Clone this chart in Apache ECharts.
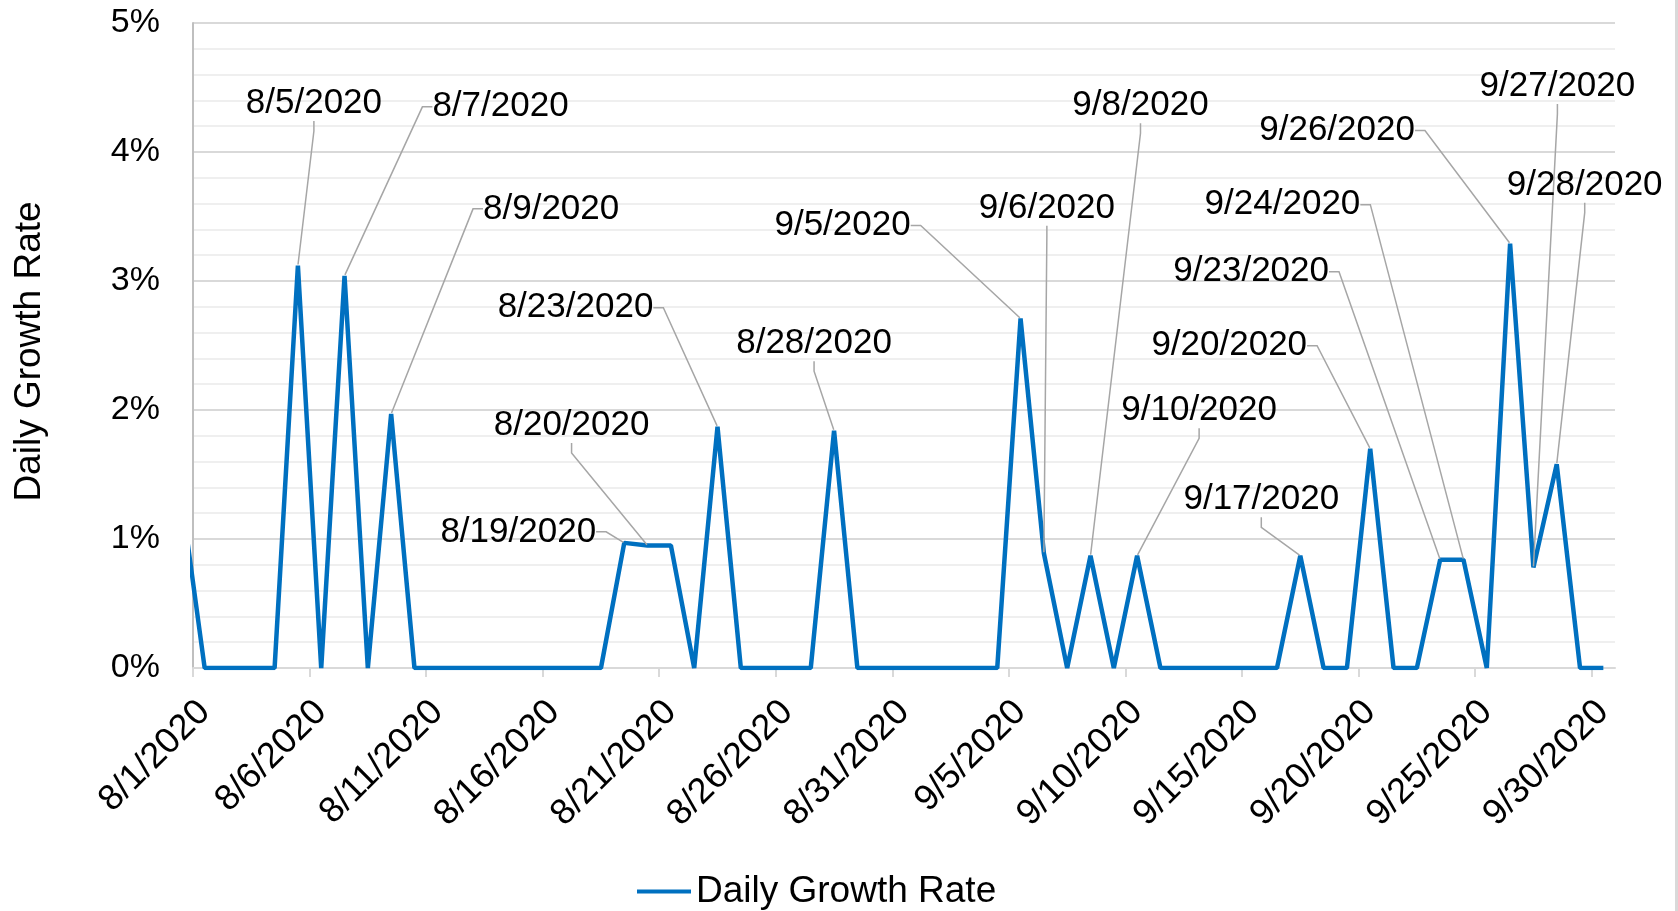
<!DOCTYPE html>
<html>
<head>
<meta charset="utf-8">
<script src="https://cdn.jsdelivr.net/npm/echarts@6/dist/echarts.min.js"></script>
<style>
  html, body { margin: 0; padding: 0; background: #fff; }
  #chart { width: 1675px; height: 911px; border-right: 3px solid #d9d9d9; }
</style>
</head>
<body>
<div id="chart"></div>
<script>
// ---- data ----
const dates = [
  '7/31/2020',
  '8/1/2020','8/2/2020','8/3/2020','8/4/2020','8/5/2020','8/6/2020','8/7/2020','8/8/2020','8/9/2020','8/10/2020',
  '8/11/2020','8/12/2020','8/13/2020','8/14/2020','8/15/2020','8/16/2020','8/17/2020','8/18/2020','8/19/2020','8/20/2020',
  '8/21/2020','8/22/2020','8/23/2020','8/24/2020','8/25/2020','8/26/2020','8/27/2020','8/28/2020','8/29/2020','8/30/2020',
  '8/31/2020','9/1/2020','9/2/2020','9/3/2020','9/4/2020','9/5/2020','9/6/2020','9/7/2020','9/8/2020','9/9/2020',
  '9/10/2020','9/11/2020','9/12/2020','9/13/2020','9/14/2020','9/15/2020','9/16/2020','9/17/2020','9/18/2020','9/19/2020',
  '9/20/2020','9/21/2020','9/22/2020','9/23/2020','9/24/2020','9/25/2020','9/26/2020','9/27/2020','9/28/2020','9/29/2020',
  '9/30/2020'
];
const growthRate = [
  1.33,
  0, 0, 0, 0, 3.12, 0, 3.04, 0, 1.97, 0,
  0, 0, 0, 0, 0, 0, 0, 0, 0.97, 0.95,
  0.95, 0, 1.87, 0, 0, 0, 0, 1.84, 0, 0,
  0, 0, 0, 0, 0, 2.71, 0.89, 0, 0.87, 0,
  0.87, 0, 0, 0, 0, 0, 0, 0.87, 0, 0,
  1.70, 0, 0, 0.84, 0.84, 0, 3.29, 0.78, 1.58, 0,
  0
];
const labeledDates = ['8/5/2020','8/7/2020','8/9/2020','8/19/2020','8/20/2020','8/23/2020','8/28/2020',
  '9/5/2020','9/6/2020','9/8/2020','9/10/2020','9/17/2020','9/20/2020','9/23/2020','9/24/2020',
  '9/26/2020','9/27/2020','9/28/2020'];
const xTickLabels = ['8/1/2020','8/6/2020','8/11/2020','8/16/2020','8/21/2020','8/26/2020','8/31/2020',
  '9/5/2020','9/10/2020','9/15/2020','9/20/2020','9/25/2020','9/30/2020'];
const yTicks = [0, 1, 2, 3, 4, 5];
const seriesName = 'Daily Growth Rate';

// ---- layout (label offsets from their point, px) ----
const labelOffsets = {
  '8/5/2020': [16, -162], '8/7/2020': [156, -169], '8/9/2020': [160, -205],
  '8/19/2020': [-106, -11], '8/20/2020': [-76, -120], '8/23/2020': [-142, -119],
  '8/28/2020': [-20, -87], '9/5/2020': [-178, -93], '9/6/2020': [3, -345],
  '9/8/2020': [50, -450], '9/10/2020': [62, -145], '9/17/2020': [-39, -56],
  '9/20/2020': [-141, -103], '9/23/2020': [-189, -288], '9/24/2020': [-181, -355],
  '9/26/2020': [-173, -113], '9/27/2020': [24, -481], '9/28/2020': [28, -279]
};

const ORIGIN = Date.UTC(2020, 7, 1);
function dayIndex(s) {
  const p = s.split('/').map(Number);
  return Math.round((Date.UTC(p[2], p[0] - 1, p[1]) - ORIGIN) / 864e5);
}
const tickPos = xTickLabels.map(dayIndex);
const tickLabelByPos = {};
xTickLabels.forEach(function (l) { tickLabelByPos[dayIndex(l)] = l; });

const seriesData = dates.map(function (d, i) {
  const item = { name: d, value: [dayIndex(d) + 0.5, growthRate[i]] };
  if (labeledDates.indexOf(d) >= 0) {
    item.label = { show: true };
    item.labelLine = { show: true };
  }
  return item;
});

const FONT = 'Liberation Sans, Arial, sans-serif';
const chart = echarts.init(document.getElementById('chart'));
chart.setOption({
  animation: false,
  backgroundColor: '#ffffff',
  grid: { left: 193, right: 60, top: 23, bottom: 243, containLabel: false },
  legend: {
    left: 632, top: 868,
    itemWidth: 54, itemHeight: 4, itemGap: 20,
    textStyle: { fontFamily: FONT, fontSize: 37, color: '#000' },
    data: [{ name: seriesName, icon: 'rect', itemStyle: { color: '#0070C0' } }]
  },
  xAxis: {
    type: 'value', min: 0, max: 61, interval: 5,
    axisLine: { show: true, lineStyle: { color: '#d9d9d9', width: 2 } },
    axisTick: { show: true, length: 9, lineStyle: { color: '#d9d9d9', width: 2 }, customValues: tickPos },
    axisLabel: {
      customValues: tickPos,
      rotate: 45, margin: 50, padding: [0, -16, 0, 0],
      fontFamily: FONT, fontSize: 36, color: '#000',
      formatter: function (v) { return tickLabelByPos[v] || ''; }
    },
    splitLine: { show: false }
  },
  yAxis: {
    type: 'value', min: yTicks[0], max: yTicks[yTicks.length - 1], interval: 1,
    name: 'Daily Growth Rate', nameLocation: 'middle', nameGap: 145,
    nameTextStyle: { fontFamily: FONT, fontSize: 37, color: '#000', padding: [0, 12, 0, 0] },
    axisLine: { show: true, lineStyle: { color: '#bfbfbf', width: 2 } },
    axisTick: { show: false },
    axisLabel: { margin: 33, fontFamily: FONT, fontSize: 34, color: '#000', formatter: '{value}%' },
    splitLine: { show: true, lineStyle: { color: '#d9d9d9', width: 2 } },
    minorTick: { show: false, splitNumber: 5 },
    minorSplitLine: { show: true, lineStyle: { color: '#efefef', width: 2 } }
  },
  series: [{
    name: seriesName,
    type: 'line',
    data: seriesData,
    clip: true,
    symbol: 'circle', symbolSize: 2, showSymbol: true,
    itemStyle: { color: 'rgba(0,0,0,0)' },
    lineStyle: { color: '#0070C0', width: 4.5 },
    emphasis: { disabled: true },
    label: {
      show: false, formatter: '{b}',
      fontFamily: FONT, fontSize: 35, color: '#000',
      padding: [6, 10]
    },
    labelLine: { show: false, length2: 10, lineStyle: { color: '#a6a6a6', width: 1.5 } },
    labelLayout: function (p) {
      const name = dates[p.dataIndex];
      const off = labelOffsets[name];
      if (!off) return {};
      return {
        x: p.rect.x + p.rect.width / 2 + off[0],
        y: p.rect.y + p.rect.height / 2 + off[1],
        align: 'center', verticalAlign: 'middle'
      };
    }
  }]
});
</script>
</body>
</html>
